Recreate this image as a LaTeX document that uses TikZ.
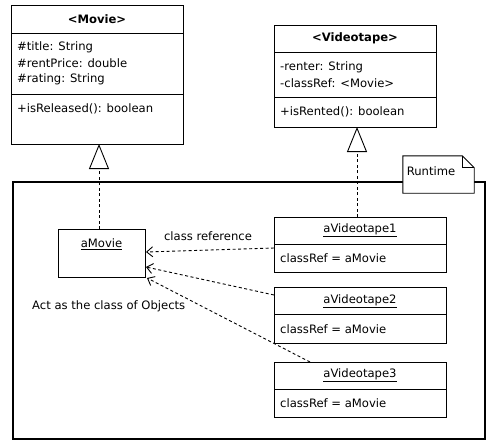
\documentclass[tikz,border=0pt]{standalone}
\usepackage{fontspec}
\setmainfont{DejaVu Sans}
\usetikzlibrary{arrows.meta,calc}
\begin{document}
\begin{tikzpicture}[x=1pt,y=-1pt,
  box/.style={draw,line width=0.9pt,inner sep=0,outer sep=0},
  txt/.style={anchor=west,inner sep=0,font=\fontsize{11.6}{13}\selectfont},
  ctxt/.style={inner sep=0,font=\fontsize{11.6}{13}\selectfont},
  ttl/.style={inner sep=0,font=\fontsize{11.6}{13}\selectfont\bfseries},
  sep/.style={line width=0.9pt},
  gen/.style={line width=0.9pt,dash pattern=on 3pt off 2.5pt,-{Triangle[open,length=25pt,width=20pt,line width=0.9pt]}},
  dep/.style={line width=0.9pt,dash pattern=on 3pt off 2.5pt,-{Straight Barb[length=6pt,width=10pt,line width=0.9pt]}}
]
\useasboundingbox (0,0) rectangle (486,441);
\fill[white] (0,0) rectangle (486,441);

% Runtime frame
\node[draw,line width=1.3pt,inner sep=0,minimum width=472,minimum height=257] (runtime) at (249,310.5) {};

% Movie class
\node[box,minimum width=172,minimum height=139] (movie) at (97,74.5) {};
\draw[sep] ($(movie.north west)+(0,28)$) -- ($(movie.north east)+(0,28)$);
\draw[sep] ($(movie.north west)+(0,89)$) -- ($(movie.north east)+(0,89)$);
\node[ttl] (movieT) at (97,19) {<Movie>};
\node[txt] (ma1) at (17,47) {\#title: String};
\node[txt] (ma2) at (17,63) {\#rentPrice: double};
\node[txt] (ma3) at (17,79) {\#rating: String};
\node[txt] (mm1) at (17,109) {+isReleased(): boolean};

% Videotape class
\node[box,minimum width=162,minimum height=102] (videotape) at (355,76) {};
\draw[sep] ($(videotape.north west)+(0,27)$) -- ($(videotape.north east)+(0,27)$);
\draw[sep] ($(videotape.north west)+(0,72)$) -- ($(videotape.north east)+(0,72)$);
\node[ttl] (vtT) at (355,38) {<Videotape>};
\node[txt] (va1) at (280,67) {-renter: String};
\node[txt] (va2) at (280,83) {-classRef: <Movie>};
\node[txt] (vm1) at (280,112) {+isRented(): boolean};

% Note
\node[inner sep=0,minimum width=71,minimum height=37] (note) at (438.5,174.5) {};
\draw[line width=0.9pt,fill=white] (note.north west) -- ($(note.north east)+(-12,0)$) -- ($(note.north east)+(0,12)$) -- (note.south east) -- (note.south west) -- cycle;
\draw[line width=0.9pt] ($(note.north east)+(-12,0)$) -- ($(note.north east)+(-12,12)$) -- ($(note.north east)+(0,12)$);
\node[ctxt] (noteT) at (431,171) {Runtime};

% aMovie object
\node[box,minimum width=87,minimum height=48] (amovie) at (101.5,253) {};
\node[ctxt] (amovieT) at (101.5,244) {\underline{aMovie}};

% aVideotape objects
\node[box,minimum width=172,minimum height=55] (vt1) at (360,244.5) {};
\draw[sep] ($(vt1.north west)+(0,27)$) -- ($(vt1.north east)+(0,27)$);
\node[ctxt] (vt1T) at (360,230) {\underline{aVideotape1}};
\node[txt] (vt1A) at (280,258) {classRef = aMovie};

\node[box,minimum width=172,minimum height=56] (vt2) at (360,315) {};
\draw[sep] ($(vt2.north west)+(0,27)$) -- ($(vt2.north east)+(0,27)$);
\node[ctxt] (vt2T) at (360,301) {\underline{aVideotape2}};
\node[txt] (vt2A) at (280,329) {classRef = aMovie};

\node[box,minimum width=172,minimum height=55] (vt3) at (360,389.5) {};
\draw[sep] ($(vt3.north west)+(0,27)$) -- ($(vt3.north east)+(0,27)$);
\node[ctxt] (vt3T) at (360,375) {\underline{aVideotape3}};
\node[txt] (vt3A) at (280,403) {classRef = aMovie};

% labels
\node[ctxt] (lblRef) at (208,236) {class reference};
\node[txt] (lblAct) at (32,306) {Act as the class of Objects};

% generalization
\coordinate (g1) at ($(movie.south)+(2,0)$);
\coordinate (g2) at ($(videotape.south)+(2,0)$);
\draw[gen] (g1 |- amovie.north) -- (g1);
\draw[gen] (g2 |- vt1.north) -- (g2);

% dependencies
\draw[dep] ($(vt1.west)+(0,3.5)$) -- ($(amovie.east)+(1,-1)$);
\draw[dep] ($(vt2.north west)+(0,8)$) -- ($(amovie.east)+(1,14)$);
\draw[dep] ($(vt3.north west)+(36,0)$) -- ($(amovie.south east)+(2,1)$);
\end{tikzpicture}
\end{document}
